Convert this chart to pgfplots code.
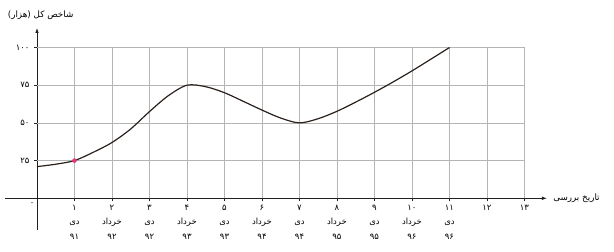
\documentclass[border=0pt]{standalone}
\usepackage{pgfplots}
\pgfplotsset{compat=1.18}
\usepackage{fontspec}
\usetikzlibrary{arrows.meta}
\TeXXeTstate=1
\newfontfamily\arabicfont[Script=Arabic]{DejaVu Sans}
\definecolor{curvecol}{HTML}{2B211C}
\definecolor{gridcol}{HTML}{B5B5B5}
\definecolor{axcol}{HTML}{231F20}
\definecolor{ptpink}{HTML}{E8327F}
\newcommand{\fa}[1]{{\arabicfont\beginR #1\endR}}
\newcommand{\tl}[3]{#1\\\fa{#2}\\#3}
\begin{document}
\begin{tikzpicture}
\begin{axis}[
  x=37.5bp, y=1.508bp,
  xmin=-0.85, xmax=13.6, ymin=-21, ymax=113,
  axis lines=middle,
  axis line style={draw=axcol, line width=0.8bp, -{Latex[length=5bp,width=3.5bp]}},
  clip=false,
  xtick={1,...,13},
  xticklabels={{\tl{۱}{دی}{۹۱}},{\tl{۲}{خرداد}{۹۲}},{\tl{۳}{دی}{۹۲}},{\tl{۴}{خرداد}{۹۳}},{\tl{۵}{دی}{۹۳}},{\tl{۶}{خرداد}{۹۴}},{\tl{۷}{دی}{۹۴}},{\tl{۸}{خرداد}{۹۵}},{\tl{۹}{دی}{۹۵}},{\tl{۱۰}{خرداد}{۹۶}},{\tl{۱۱}{دی}{۹۶}},۱۲,۱۳},
  ytick={25,50,75,100},
  yticklabels={۲۵,۵۰,۷۵,۱۰۰},
  tick style={draw=axcol, line width=0.6bp},
  major tick length=3bp,
  tick align=outside,
  xticklabel style={align=center, anchor=north, yshift=0bp, font=\arabicfont\fontsize{8.5}{14.5}\selectfont},
  yticklabel style={anchor=east, xshift=-1bp, font=\arabicfont\fontsize{8.5}{9}\selectfont},
]
\path (axis cs:-0.987,131.5) rectangle (axis cs:15.387,-35.6);
\pgfplotsinvokeforeach{1,...,13}{\draw[gridcol, line width=0.7bp] (axis cs:#1,0) -- (axis cs:#1,100);}
\pgfplotsinvokeforeach{25,50,75,100}{\draw[gridcol, line width=0.7bp] (axis cs:0,#1) -- (axis cs:13,#1);}
\addplot[curvecol, line width=1.2bp, smooth, no marks] coordinates {
 (0,21) (0.5,22.6) (1,25) (1.5,30.5) (2,37) (2.5,46) (3,57.5) (3.5,68) (4,75) (4.5,74) (5,70) (5.5,64.3) (6,58.5) (6.5,53.2) (7,50) (7.5,52.8) (8,57.7) (8.5,63.8) (9,70.3) (9.5,77.2) (10,84.5) (10.5,92.2) (11,100)
};
\addplot[only marks, mark=*, mark size=2bp, color=ptpink] coordinates {(1,25)};
\node[anchor=west, font=\fontsize{8.8}{11}\selectfont] at (axis cs:-0.87,121.5) {\fa{شاخص کل (هزار)}};
\node[anchor=west, font=\fontsize{8.8}{11}\selectfont] at (axis cs:13.62,0) [xshift=2bp] {\fa{تاریخ بررسی}};
\node[font=\arabicfont\fontsize{8.5}{9}\selectfont] at (axis cs:-0.13,-4) {۰};
\end{axis}
\end{tikzpicture}
\end{document}
